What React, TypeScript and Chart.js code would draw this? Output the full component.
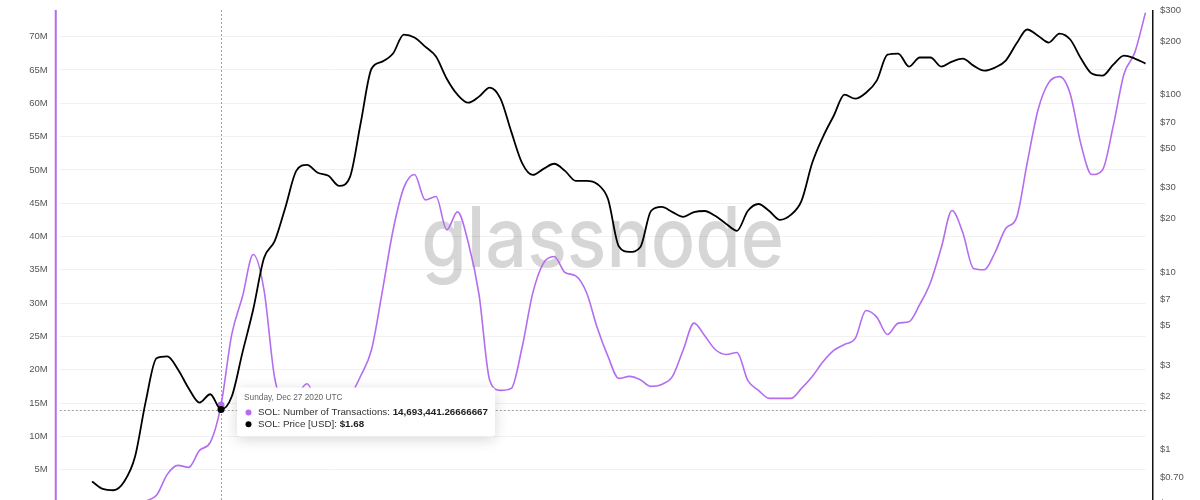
import React, { useEffect, useRef } from "react";
import { Chart, registerables } from "chart.js";

Chart.register(...registerables);

// ---- data ----
const START_DATE_UTC = Date.UTC(2020, 1, 16);
const STEP_DAYS = 21;
const HOVER_INDEX = 15;

const priceUsd: (number | null)[] = [
  null, null, null, 0.66, 0.60, 0.59, 0.66, 0.91, 1.87, 3.27,
  3.35, 2.83, 2.21, 1.84, 2.05, 1.68, 1.99, 3.53, 6.18, 12.0,
  15.0, 23.3, 37.2, 40.2, 36.3, 34.9, 30.6, 34.4, 69.5, 140,
  153.6, 170.5, 218, 210, 186.6, 164, 123, 100, 90.1, 97.5,
  109.6, 94.9, 61.9, 41.3, 35.3, 38.2, 40.8, 37.2, 32.7, 32.7,
  31.4, 25.8, 14.0, 13.0, 13.8, 22.1, 23.3, 21.8, 20.5, 21.8,
  22.1, 20.7, 18.7, 17.1, 22.1, 24.2, 22.1, 19.7, 21.0, 25.2,
  41.3, 57.9, 76.1, 100, 94.9, 102.6, 120, 168, 170.5, 144,
  162, 162, 144, 153.6, 159.8, 145.8, 136.7, 142.1, 155.6, 194,
  233, 215, 196.7, 221, 204.5, 159.8, 131.5, 128, 147.6, 166,
  159.8, 149.7,
];

// number of transactions, in millions
const txMillions: (number | null)[] = [
  null, null, null, null, null, null, null, null, 0.3, 1.15,
  4.3, 5.65, 5.35, 7.9, 9.1, 14.69344126666667, 25.3, 31.0, 37.3, 32.0,
  18.7, 15.0, 16.0, 17.9, 15.0, 14.3, 14.5, 16.0, 19.1, 23.0,
  31.7, 40.9, 47.3, 49.3, 45.5, 46.0, 41.0, 43.7, 39.1, 31.3,
  18.4, 16.9, 17.2, 23.3, 31.5, 36.0, 37.0, 34.6, 34.1, 31.6,
  26.3, 22.0, 18.7, 19.0, 18.5, 17.5, 17.8, 19.0, 23.0, 27.0,
  25.1, 23.0, 22.3, 22.6, 18.4, 16.9, 15.7, 15.7, 15.7, 17.2,
  19.0, 21.2, 22.9, 23.8, 24.7, 28.9, 27.9, 25.3, 27.0, 27.2,
  29.8, 33.1, 38.3, 43.9, 40.6, 35.2, 35.0, 37.6, 41.2, 42.8,
  51.1, 59.0, 63.1, 64.0, 61.4, 53.8, 49.3, 50.0, 56.6, 64.4,
  67.6, 73.6,
];

const dates = priceUsd.map((_, i) => new Date(START_DATE_UTC + i * STEP_DAYS * 86400000));
const categories = dates.map((d) => d.toISOString().slice(0, 10));

const leftTicks = [0, 5, 10, 15, 20, 25, 30, 35, 40, 45, 50, 55, 60, 65, 70];
const rightTicks = [0.5, 0.7, 1, 2, 3, 5, 7, 10, 20, 30, 50, 70, 100, 200, 300];

const WEEKDAYS = ["Sunday", "Monday", "Tuesday", "Wednesday", "Thursday", "Friday", "Saturday"];
const MONTHS = ["Jan", "Feb", "Mar", "Apr", "May", "Jun", "Jul", "Aug", "Sep", "Oct", "Nov", "Dec"];

const PURPLE = "#b46cf0";
const FONT = "'Liberation Sans', Arial, Helvetica, sans-serif";

const overlayPlugin = {
  id: "overlay",
  beforeDatasetsDraw(chart: any) {
    const { ctx, chartArea } = chart;
    ctx.save();
    // watermark
    ctx.font = "500 84px Inter";
    ctx.fillStyle = "rgba(0,0,0,0.16)";
    ctx.textAlign = "left";
    ctx.textBaseline = "alphabetic";
    const wm = "glassnode";
    const w = ctx.measureText(wm).width;
    const target = 363;
    const cx = (chartArea.left + chartArea.right) / 2;
    ctx.translate(cx - target / 2, 267);
    ctx.scale(target / w, 1);
    ctx.fillText(wm, 0, 0);
    ctx.restore();

    // crosshair
    const px = chart.scales.x.getPixelForValue(HOVER_INDEX);
    const py = chart.scales.yPrice.getPixelForValue(priceUsd[HOVER_INDEX]);
    ctx.save();
    ctx.strokeStyle = "#a0a0a0";
    ctx.lineWidth = 1;
    ctx.setLineDash([2, 2]);
    ctx.beginPath();
    ctx.moveTo(Math.round(px) + 0.5, chartArea.top);
    ctx.lineTo(Math.round(px) + 0.5, chartArea.bottom);
    ctx.stroke();
    ctx.beginPath();
    ctx.moveTo(chartArea.left, Math.round(py) + 0.5);
    ctx.lineTo(chartArea.right, Math.round(py) + 0.5);
    ctx.stroke();
    ctx.restore();
  },
  afterDraw(chart: any) {
    const { ctx, chartArea } = chart;
    ctx.save();
    // axis lines
    ctx.fillStyle = PURPLE;
    ctx.fillRect(chartArea.left - 5, chartArea.top, 2, chartArea.bottom - chartArea.top + 10);
    ctx.fillStyle = "#111";
    ctx.fillRect(chartArea.right + 6.5, chartArea.top, 1.5, chartArea.bottom - chartArea.top + 10);
    ctx.restore();

    // tooltip
    const px = chart.scales.x.getPixelForValue(HOVER_INDEX);
    const py = chart.scales.yPrice.getPixelForValue(priceUsd[HOVER_INDEX]);
    const d = dates[HOVER_INDEX];
    const title = `${WEEKDAYS[d.getUTCDay()]}, ${MONTHS[d.getUTCMonth()]} ${d.getUTCDate()} ${d.getUTCFullYear()} UTC`;
    const txVal = ((txMillions[HOVER_INDEX] as number) * 1e6).toLocaleString("en-US", {
      minimumFractionDigits: 8,
      maximumFractionDigits: 8,
    });
    const priceVal = "$" + (priceUsd[HOVER_INDEX] as number).toFixed(2);
    const rows = [
      { color: PURPLE, label: "SOL: Number of Transactions: ", value: txVal },
      { color: "#000", label: "SOL: Price [USD]: ", value: priceVal },
    ];
    const bodyFont = `400 9.8px ${FONT}`;
    const boldFont = `700 9.8px ${FONT}`;
    const titleFont = `400 8.3px ${FONT}`;

    const bx = px + 16;
    const by = py - 22;
    const textX = bx + 21;
    ctx.save();
    let maxW = 0;
    rows.forEach((r) => {
      ctx.font = bodyFont;
      const a = ctx.measureText(r.label).width;
      ctx.font = boldFont;
      const b = ctx.measureText(r.value).width;
      maxW = Math.max(maxW, a + b);
    });
    const bw = textX - bx + maxW + 7;
    const bh = 49;

    ctx.shadowColor = "rgba(0,0,0,0.16)";
    ctx.shadowBlur = 14;
    ctx.shadowOffsetY = 3;
    ctx.fillStyle = "#fff";
    ctx.beginPath();
    ctx.roundRect(bx, by, bw, bh, 3);
    ctx.fill();
    ctx.shadowColor = "transparent";

    ctx.textBaseline = "middle";
    ctx.textAlign = "left";
    ctx.font = titleFont;
    ctx.fillStyle = "#666";
    ctx.fillText(title, bx + 7, by + 10.5);

    rows.forEach((r, k) => {
      const cy = by + 25 + k * 11.7;
      ctx.fillStyle = r.color;
      ctx.beginPath();
      ctx.arc(bx + 11.5, cy, 3, 0, Math.PI * 2);
      ctx.fill();
      ctx.font = bodyFont;
      ctx.fillStyle = "#333";
      ctx.fillText(r.label, textX, cy);
      const lw = ctx.measureText(r.label).width;
      ctx.font = boldFont;
      ctx.fillStyle = "#222";
      ctx.fillText(r.value, textX + lw, cy);
    });
    ctx.restore();
  },
};

export default function App() {
  const canvasRef = useRef<HTMLCanvasElement | null>(null);

  useEffect(() => {
    const canvas = canvasRef.current;
    if (!canvas) return;
    const hoverRadius = (c: any) => (c.dataIndex === HOVER_INDEX ? 3.5 : 0);
    const chart = new Chart(canvas, {
      type: "line",
      data: {
        labels: categories,
        datasets: [
          {
            label: "SOL: Price [USD]",
            data: priceUsd,
            yAxisID: "yPrice",
            borderColor: "#000",
            borderWidth: 1.8,
            pointRadius: hoverRadius,
            pointBackgroundColor: "#000",
            pointBorderColor: "#000",
            pointBorderWidth: 0,
            cubicInterpolationMode: "monotone",
            order: 0,
          },
          {
            label: "SOL: Number of Transactions",
            data: txMillions,
            yAxisID: "yTx",
            borderColor: PURPLE,
            borderWidth: 1.6,
            pointRadius: hoverRadius,
            pointBackgroundColor: PURPLE,
            pointBorderColor: PURPLE,
            pointBorderWidth: 0,
            cubicInterpolationMode: "monotone",
            order: 1,
          },
        ],
      },
      options: {
        responsive: false,
        animation: false,
        events: [],
        layout: { padding: { top: 10, bottom: 17, left: 0, right: 0 } },
        plugins: {
          legend: { display: false },
          tooltip: { enabled: false },
        },
        scales: {
          x: { type: "category", display: false },
          yTx: {
            type: "linear",
            position: "left",
            min: 0,
            max: 74,
            afterBuildTicks: (s: any) => {
              s.ticks = leftTicks.map((v) => ({ value: v }));
            },
            afterFit: (s: any) => {
              s.width = 59.75;
            },
            border: { display: false },
            grid: { color: "#f1f1f1", drawTicks: true, tickLength: 10, tickColor: "rgba(0,0,0,0)", lineWidth: 1 },
            ticks: {
              padding: 2,
              color: "#555",
              font: { family: FONT, size: 9.5 },
              callback: (v: any) => (v === 0 ? "0" : `${v}M`),
            },
          },
          yPrice: {
            type: "logarithmic",
            position: "right",
            min: 0.5,
            max: 300,
            afterBuildTicks: (s: any) => {
              s.ticks = rightTicks.map((v) => ({ value: v }));
            },
            afterFit: (s: any) => {
              s.width = 54.5;
            },
            border: { display: false },
            grid: { display: false, drawTicks: true, tickLength: 12.5 },
            ticks: {
              padding: 2,
              color: "#555",
              font: { family: FONT, size: 9.5 },
              callback: (v: any) => (v < 1 ? "$" + Number(v).toFixed(2) : "$" + v),
            },
          },
        },
      },
      plugins: [overlayPlugin],
    } as any);
    return () => chart.destroy();
  }, []);

  return (
    <div style={{ position: "fixed", left: 0, top: 0, width: 1200, height: 520, background: "#fff" }}>
      <canvas ref={canvasRef} width={1200} height={520} style={{ width: 1200, height: 520, display: "block" }} />
    </div>
  );
}
